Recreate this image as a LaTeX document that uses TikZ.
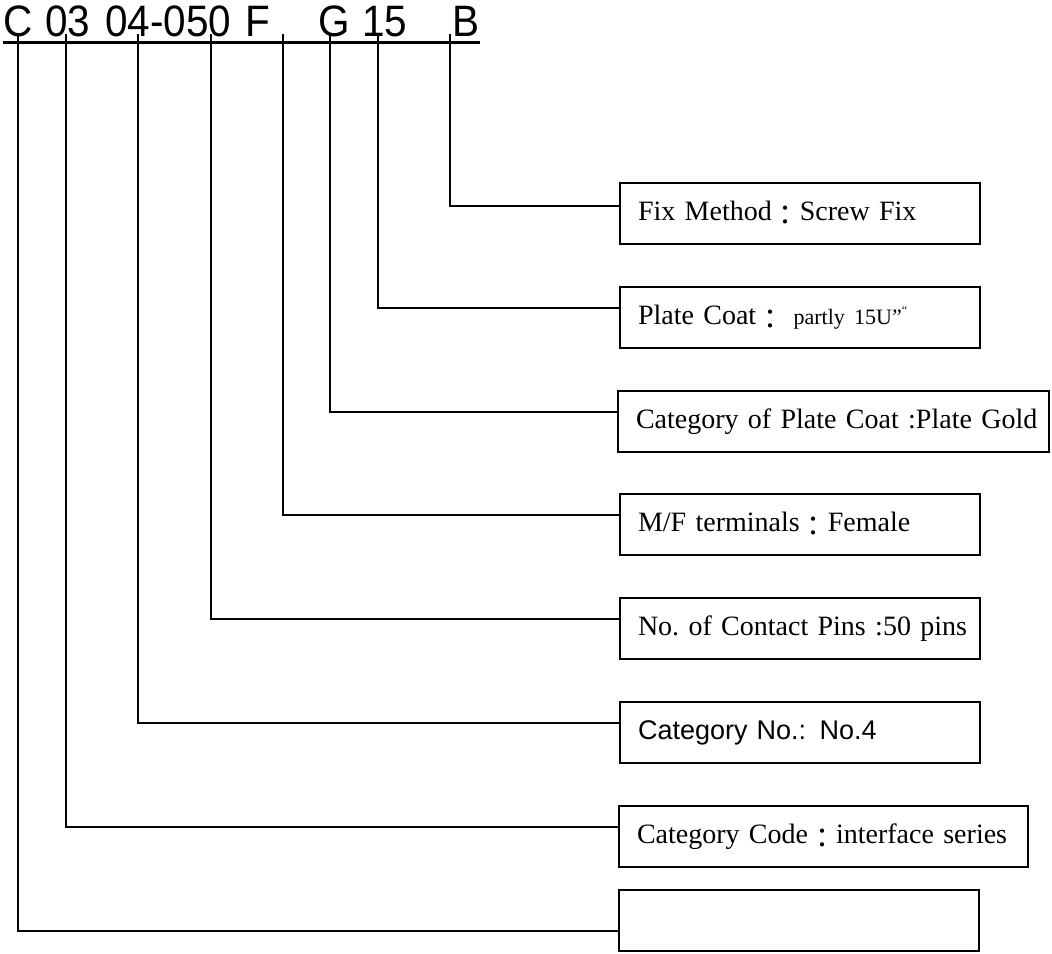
\documentclass[tikz,border=0pt]{standalone}
\usepackage{fontspec}
\setmainfont{Liberation Serif}
\setsansfont{Liberation Sans}
\newfontfamily\cjk{Noto Sans CJK JP}
\newfontfamily\codefont[FakeStretch=0.92]{Liberation Sans}
\usepackage{tikz}
\newcommand{\wcolon}{\raisebox{-2.5pt}{\cjk ：}}

\begin{document}
\begin{tikzpicture}[x=0.5pt, y=-0.5pt,
        box/.style={rectangle, draw=black, line width=1pt, anchor=north west, minimum height=30.5pt, inner xsep=9pt, inner ysep=0pt, text width=#1, align=left, font=\fontsize{14}{16}\selectfont\frenchspacing, execute at begin node={\hbox\bgroup}, execute at end node={\egroup}},
        code/.style={anchor=base west, inner sep=0pt, font=\codefont\fontsize{22}{24}\selectfont},
        wire/.style={line width=1pt}]

        \useasboundingbox (0,0) rectangle (1052,953);

        % part number
        \node (tC) [code] at (3, 36.7) {C};
        \node (t03) [code] at (45, 36.7) {03};
        \node (t04) [code] at (105, 36.7) {04-050};
        \node (tF) [code] at (245, 36.7) {F};
        \node (tG) [code] at (318, 36.7) {G};
        \node (t15) [code] at (362, 36.7) {15};
        \node (tB) [code] at (452, 36.7) {B};
        \draw [line width=1.5pt] ([yshift=-2.8pt]tC.base west) -- ([yshift=-2.8pt]tB.base east);

        \coordinate (kC) at (17.5, 34);
        \coordinate (k03) at (65.7, 34);
        \coordinate (k04) at (137.7, 34);
        \coordinate (k050) at (211, 34);
        \coordinate (kF) at (283, 34);
        \coordinate (kG) at (330, 34);
        \coordinate (k15) at (378, 34);
        \coordinate (kB) at (450, 34);

        % meaning of each field
        \node (fix) [box=162pt] at (619, 182) {Fix Method\wcolon Screw Fix};
        \node (coat) [box=162pt] at (619, 286) {Plate Coat\wcolon\ {\fontsize{11}{13}\selectfont partly 15U”}\raisebox{5pt}{\fontsize{6}{7}\selectfont “}};
        \node (plating) [box=197.5pt] at (617, 390) {Category of Plate Coat :Plate Gold};
        \node (term) [box=162pt] at (619, 493) {M/F terminals\wcolon Female};
        \node (pins) [box=162pt] at (619, 597) {No. of Contact Pins :50 pins};
        \node (catno) [box=162pt, font=\sffamily\fontsize{13.5}{16}\selectfont] at (619, 701) {Category No.: No.4};
        \node (catcode) [box=186.5pt] at (618, 805) {Category Code\wcolon interface series};
        \node (blank) [box=162pt] at (618, 889) {};

        \draw [wire] (kB) |- ([yshift=4pt]fix.west);
        \draw [wire] (k15) |- ([yshift=5pt]coat.west);
        \draw [wire] (kG) |- ([yshift=5pt]plating.west);
        \draw [wire] (kF) |- ([yshift=5pt]term.west);
        \draw [wire] (k050) |- ([yshift=5pt]pins.west);
        \draw [wire] (k04) |- ([yshift=5pt]catno.west);
        \draw [wire] (k03) |- ([yshift=5pt]catcode.west);
        \draw [wire] (kC) |- ([yshift=-5.25pt]blank.west);
    \end{tikzpicture}
\end{document}
